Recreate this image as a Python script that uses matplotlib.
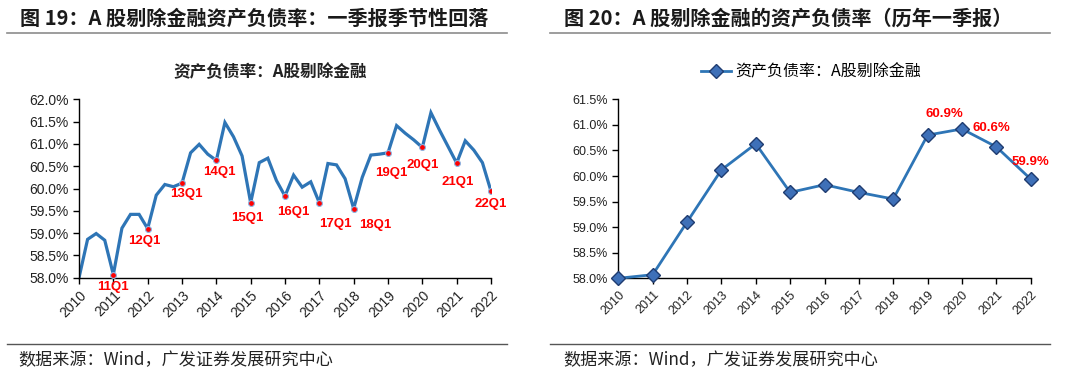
import matplotlib
matplotlib.use("Agg")
import matplotlib.pyplot as plt
from matplotlib.lines import Line2D
from matplotlib.ticker import FuncFormatter, MultipleLocator

plt.rcParams['font.family'] = ['Liberation Sans', 'Noto Sans CJK SC', 'DejaVu Sans']
CJK = ['Noto Sans CJK SC', 'Liberation Sans', 'DejaVu Sans']

# ---------------- data ----------------
years = ['2010', '2011', '2012', '2013', '2014', '2015', '2016',
         '2017', '2018', '2019', '2020', '2021', '2022']
# quarterly debt-to-asset ratio (%), 2010Q1 .. 2022Q1
quarterly = [58.00, 58.86, 58.99, 58.84,
             58.07, 59.11, 59.42, 59.42,
             59.10, 59.85, 60.09, 60.04,
             60.12, 60.80, 60.99, 60.77,
             60.63, 61.48, 61.16, 60.73,
             59.68, 60.58, 60.68, 60.18,
             59.83, 60.30, 60.03, 60.15,
             59.68, 60.56, 60.53, 60.22,
             59.55, 60.25, 60.75, 60.77,
             60.80, 61.41, 61.24, 61.09,
             60.92, 61.70, 61.31, 60.94,
             60.57, 61.07, 60.86, 60.58,
             59.94]
# Q1 values of each year
q1_values = [58.00, 58.07, 59.10, 60.12, 60.63, 59.68, 59.83,
             59.68, 59.55, 60.80, 60.92, 60.57, 59.94]
q1_labels = ['11Q1', '12Q1', '13Q1', '14Q1', '15Q1', '16Q1', '17Q1',
             '18Q1', '19Q1', '20Q1', '21Q1', '22Q1']
right_labeled_years = ['2020', '2021', '2022']

# ---------------- styles ----------------
LINE = '#2E75B6'
RED = '#FF0000'
W, H = 1080, 375

fig = plt.figure(figsize=(10.8, 3.75), dpi=100)

def fx(px):
    return px / W

def fy(py):
    return 1 - py / H

# titles & separators
fig.text(fx(20), fy(18), '图 19：A 股剔除金融资产负债率：一季报季节性回落',
         family=CJK, fontweight='bold', fontsize=14.5, color='#1A1A1A',
         ha='left', va='center')
fig.text(fx(564), fy(18), '图 20：A 股剔除金融的资产负债率（历年一季报）',
         family=CJK, fontweight='bold', fontsize=14.5, color='#1A1A1A',
         ha='left', va='center')
for x0, x1 in [(7, 507), (550, 1050)]:
    fig.add_artist(Line2D([fx(x0), fx(x1)], [fy(33), fy(33)],
                          color='#8C8C8C', lw=1.2, transform=fig.transFigure))
    fig.add_artist(Line2D([fx(x0), fx(x1)], [fy(344), fy(344)],
                          color='#555555', lw=1.0, transform=fig.transFigure))
fig.text(fx(18), fy(360), '数据来源：Wind，广发证券发展研究中心',
         family=CJK, fontsize=12.3, color='#222222', ha='left', va='center')
fig.text(fx(563), fy(360), '数据来源：Wind，广发证券发展研究中心',
         family=CJK, fontsize=12.3, color='#222222', ha='left', va='center')

pct = FuncFormatter(lambda v, p: f'{v:.1f}%')

def style_axes(ax, fs):
    for s in ['top', 'right']:
        ax.spines[s].set_visible(False)
    for s in ['left', 'bottom']:
        ax.spines[s].set_color('#000000')
        ax.spines[s].set_linewidth(1.0)
    ax.tick_params(axis='both', direction='out', length=4, width=1.0,
                   color='#000000', labelsize=fs, labelcolor='#222222')
    ax.yaxis.set_major_formatter(pct)

# ---------------- left chart ----------------
axL = fig.add_axes([fx(79), fy(277.7), fx(491 - 79), fy(99.3) - fy(277.7)])
xq = list(range(len(quarterly)))
axL.plot(xq, quarterly, color=LINE, lw=2.3, solid_joinstyle='miter', zorder=2)
q1_x = xq[4::4]
q1_y = quarterly[4::4]
axL.scatter(q1_x, q1_y, s=18, color=RED, edgecolor='#8DB4E2', linewidth=0.8, zorder=3)
offsetsL = [(0, -12), (-3, -12), (4, -11), (3, -12), (-3, -15), (8, -16),
            (16, -21), (22, -16), (3, -20), (0, -18), (1, -19), (0, -13)]
for x, y, lab, off in zip(q1_x, q1_y, q1_labels, offsetsL):
    axL.annotate(lab, (x, y), xytext=off, textcoords='offset pixels',
                 ha='center', va='center', color=RED, fontsize=9.5,
                 fontweight='bold', zorder=4, annotation_clip=False)
axL.set_xlim(0, len(quarterly) - 1)
axL.set_ylim(58.0, 62.0)
axL.yaxis.set_major_locator(MultipleLocator(0.5))
axL.set_xticks(xq[::4])
axL.set_xticklabels(years, rotation=45, ha='right', rotation_mode='anchor')
style_axes(axL, 10)
fig.text(fx(270), fy(72), '资产负债率：A股剔除金融', family=CJK, fontweight='bold',
         fontsize=12, color='#222222', ha='center', va='center')

# ---------------- right chart ----------------
axR = fig.add_axes([fx(618.3), fy(278.3), fx(1030.7 - 618.3), fy(99.3) - fy(278.3)])
xr = list(range(len(years)))
axR.plot(xr, q1_values, color=LINE, lw=2.0, marker='D', markersize=7.5,
         markerfacecolor='#3E70B8', markeredgecolor='#1F3C70',
         markeredgewidth=1.0, zorder=3, clip_on=False,
         label='资产负债率：A股剔除金融')
offsetsR = [(-18, 15), (-5, 19), (0, 17)]
for yr, off in zip(right_labeled_years, offsetsR):
    i = years.index(yr)
    axR.annotate(f'{q1_values[i]:.1f}%', (i, q1_values[i]), xytext=off,
                 textcoords='offset pixels', ha='center', va='center',
                 color=RED, fontsize=9.5, fontweight='bold')
axR.set_xlim(0, len(years) - 1)
axR.set_ylim(58.0, 61.5)
axR.yaxis.set_major_locator(MultipleLocator(0.5))
axR.set_xticks(xr)
axR.set_xticklabels(years, rotation=45, ha='right', rotation_mode='anchor')
style_axes(axR, 9)
leg = fig.legend(handles=axR.get_lines(), loc='center', bbox_to_anchor=(fx(811), fy(72)),
                 frameon=False, prop={'family': CJK, 'size': 11.5},
                 handlelength=1.9, handletextpad=0.3, borderaxespad=0)

fig.savefig('out.png', dpi=100)
